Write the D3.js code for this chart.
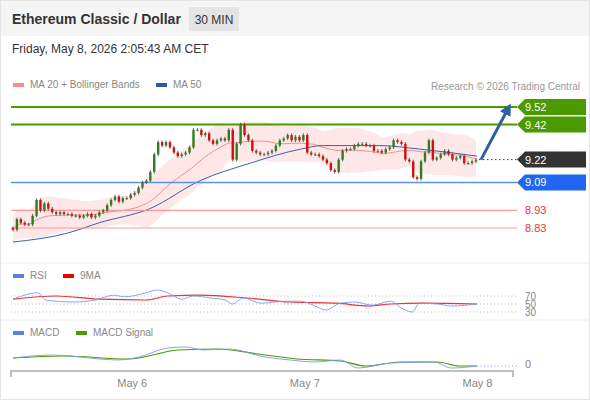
<!DOCTYPE html>
<html><head><meta charset="utf-8">
<script src="https://cdn.jsdelivr.net/npm/d3@7"></script>
<style>body{margin:0;background:#fff;font-family:"Liberation Sans",Arial,sans-serif}</style>
</head><body>
<svg id="chart" width="590" height="400"></svg>
<script>
// closing prices, one per 30 min candle
var closes = [8.82,8.88,8.86,8.85,8.85,8.90,8.99,8.93,8.97,8.94,8.92,8.91,8.92,8.91,8.91,8.90,8.90,8.89,8.90,8.91,
  8.89,8.90,8.92,8.93,8.96,8.99,9.01,8.98,9.00,9.00,9.02,9.03,9.06,9.09,9.10,9.15,9.25,9.32,9.30,9.32,
  9.29,9.26,9.24,9.25,9.26,9.29,9.39,9.39,9.36,9.37,9.33,9.31,9.33,9.34,9.33,9.39,9.22,9.31,9.42,9.36,
  9.33,9.27,9.26,9.25,9.25,9.26,9.27,9.30,9.33,9.34,9.36,9.33,9.35,9.33,9.36,9.26,9.25,9.25,9.24,9.22,
  9.20,9.16,9.15,9.22,9.27,9.28,9.28,9.30,9.31,9.31,9.30,9.30,9.27,9.27,9.26,9.28,9.29,9.33,9.32,9.31,
  9.22,9.21,9.12,9.11,9.21,9.26,9.33,9.22,9.23,9.25,9.27,9.25,9.22,9.23,9.24,9.20,9.20,9.21,9.22];
var firstOpen = 8.83;
// MA 50 read at time index (30 min steps)
var ma50Idx = [0,15,24,38,52,66,80,86,102,113,129];
var ma50Val = [8.75,8.80,8.86,8.94,9.10,9.20,9.28,9.30,9.30,9.28,9.24];
// key levels
var resistances = [9.52, 9.42];
var supports = [9.09];
var minorLevels = [8.93, 8.83];
var lastPrice = 9.22;
// RSI
var rsiIdx = [0,7,9,17,23,28,31,37,40,43,47,50,55,59,61,64,69,76,80,84,87,91,95,100,105,108,111,113,118,122,129];
var rsiVal = [62,78,60,55,60,72,68,78,85,78,62,70,65,60,50,65,52,57,57,45,35,52,55,47,57,40,30,52,50,45,50];
var rsiMaIdx = [0,12,24,37,43,52,65,77,90,99,105,114,129];
var rsiMaVal = [62,70,62,60,70,72,65,55,52,45,50,52,50];
// MACD
var macdIdx = [0,11,29,35,43,48,53,60,70,77,84,91,96,105,117,122,129];
var macdVal = [6,9,4,7,16,17,14,15,7,4,2,4,-4,1,2,-4,-2];
var sigIdx = [0,14,32,46,57,68,79,91,98,108,118,124,129];
var sigVal = [6,8,5,14,15,10,5,3,-2,2,2,-2,-2];
var dayIdx = [33, 81, 129];
var dayLabels = ["May 6", "May 7", "May 8"];

var svg = d3.select("#chart");
var W = 590;

// frame + header
svg.append("rect").attr("x",0.5).attr("y",0.5).attr("width",W-1).attr("height",399).attr("fill","#fff").attr("stroke","#e4e4e4");
svg.append("rect").attr("x",1).attr("y",1).attr("width",W-2).attr("height",35).attr("fill","#f5f5f5");
svg.append("text").attr("x",12).attr("y",24).attr("font-size",14).attr("font-weight","bold").attr("fill","#333").text("Ethereum Classic / Dollar");
svg.append("rect").attr("x",189).attr("y",7).attr("width",50).attr("height",24).attr("fill","#e4e4e4");
svg.append("text").attr("x",214).attr("y",24).attr("text-anchor","middle").attr("font-size",12).attr("fill","#333").text("30 MIN");
svg.append("text").attr("x",12).attr("y",53).attr("font-size",12).attr("fill","#333").text("Friday, May 8, 2026 2:05:43 AM CET");

// legends
function legend(x, y, color, label) {
  svg.append("rect").attr("x",x).attr("y",y-4).attr("width",11).attr("height",4).attr("fill",color);
  svg.append("text").attr("x",x+17).attr("y",y+1).attr("font-size",10).attr("fill","#888").text(label);
}
legend(13, 87, "#f88", "MA 20 + Bollinger Bands");
legend(156, 87, "#2f5b9e", "MA 50");
svg.append("text").attr("x",580).attr("y",90).attr("text-anchor","end").attr("font-size",10).attr("fill","#999").text("Research \u00a9 2026 Trading Central");
legend(13, 278, "#5b7fe0", "RSI");
legend(63, 278, "#e00", "9MA");
legend(13, 335, "#5b7fe0", "MACD");
legend(76, 335, "#4a9a00", "MACD Signal");

// separators
[263, 320].forEach(function(y){
  svg.append("line").attr("x1",1).attr("x2",W-1).attr("y1",y).attr("y2",y).attr("stroke","#eee");
});

var x = d3.scaleLinear().domain([0, 129]).range([13, 477]);
var cx = d3.scaleLinear().domain([0, closes.length-1]).range([13, 476]);
var y = d3.scaleLinear().domain([8.83, 9.52]).range([228, 107]);

// bollinger from closes
var ma20 = [], up = [], lo = [];
closes.forEach(function(c, i){
  var w = closes.slice(Math.max(0, i-19), i+1);
  var m = d3.mean(w), s = d3.deviation(w) || 0.04;
  s = Math.min(Math.max(s, 0.04), 0.07);
  ma20.push(m); up.push(m + 2*s); lo.push(m - 2*s);
});
svg.append("path").datum(closes)
  .attr("d", d3.area().curve(d3.curveBasis).x(function(d,i){return cx(i);}).y0(function(d,i){return y(lo[i]);}).y1(function(d,i){return y(up[i]);}))
  .attr("fill","#fde3e3").attr("opacity",0.85);
svg.append("path").datum(ma20)
  .attr("d", d3.line().curve(d3.curveBasis).x(function(d,i){return cx(i);}).y(function(d){return y(d);}))
  .attr("fill","none").attr("stroke","#f88").attr("stroke-width",1);
svg.append("path").datum(ma50Idx)
  .attr("d", d3.line().curve(d3.curveMonotoneX).x(function(d){return x(d);}).y(function(d,i){return y(ma50Val[i]);}))
  .attr("fill","none").attr("stroke","#3a62a8").attr("stroke-width",1);

// levels
function level(v, color, w) {
  svg.append("line").attr("x1",11).attr("x2",517).attr("y1",y(v)).attr("y2",y(v)).attr("stroke",color).attr("stroke-width",w);
}
resistances.forEach(function(v){ level(v, "#4a9a00", 2); });
supports.forEach(function(v){ level(v, "#5b8ff0", 1.5); });
minorLevels.forEach(function(v){
  level(v, "#f99", 1.2);
  svg.append("text").attr("x",525).attr("y",y(v)+4).attr("font-size",11).attr("fill","#e33").text(v.toFixed(2));
});

// candles
var cw = 2.4;
closes.forEach(function(c, i){
  var o = i === 0 ? firstOpen : closes[i-1];
  var col = c >= o ? "#2e7d1e" : "#d01010";
  var top = Math.max(o, c), bot = Math.min(o, c);
  svg.append("line").attr("x1",cx(i)).attr("x2",cx(i)).attr("y1",y(top+0.01)).attr("y2",y(bot-0.01)).attr("stroke","#444").attr("stroke-width",0.8);
  svg.append("rect").attr("x",cx(i)-cw/2).attr("y",y(top)).attr("width",cw).attr("height",Math.max(1, y(bot)-y(top))).attr("fill",col);
});

// last price dotted
var lastX = cx(closes.length-1);
svg.append("line").attr("x1",lastX+3).attr("x2",517).attr("y1",y(lastPrice)).attr("y2",y(lastPrice))
  .attr("stroke","#333").attr("stroke-dasharray","1.5,2.5");

// arrow
svg.append("defs").append("marker").attr("id","ah").attr("viewBox","0 0 10 10").attr("refX",5).attr("refY",5)
  .attr("markerWidth",4).attr("markerHeight",4).attr("orient","auto")
  .append("path").attr("d","M0,0L10,5L0,10z").attr("fill","#2f5fa0");
svg.append("line").attr("x1",lastX+5).attr("y1",y(lastPrice)).attr("x2",508).attr("y2",y(9.51))
  .attr("stroke","#2f5fa0").attr("stroke-width",3).attr("marker-end","url(#ah)");

// price tags
function tag(v, color) {
  var yy = y(v);
  svg.append("path").attr("d","M517,"+yy+"L525,"+(yy-8)+"L586,"+(yy-8)+"L586,"+(yy+8)+"L525,"+(yy+8)+"Z").attr("fill",color);
  svg.append("text").attr("x",525).attr("y",yy+4).attr("font-size",11).attr("fill","#fff").text(v.toFixed(2));
}
tag(9.52, "#4a9a00"); tag(9.42, "#4a9a00"); tag(lastPrice, "#333"); tag(9.09, "#1f66f0");

// RSI panel
var yr = d3.scaleLinear().domain([30, 70]).range([312, 296]);
[70, 50, 30].forEach(function(v){
  svg.append("line").attr("x1",11).attr("x2",517).attr("y1",yr(v)).attr("y2",yr(v)).attr("stroke","#bbb").attr("stroke-dasharray","1,2.5");
  svg.append("text").attr("x",525).attr("y",yr(v)+4).attr("font-size",10).attr("fill","#888").text(v);
});
svg.append("path").datum(rsiMaIdx).attr("d", d3.line().curve(d3.curveMonotoneX).x(function(d){return x(d);}).y(function(d,i){return yr(rsiMaVal[i]);}))
  .attr("fill","none").attr("stroke","#e33").attr("stroke-width",1.2);
svg.append("path").datum(rsiIdx).attr("d", d3.line().curve(d3.curveMonotoneX).x(function(d){return x(d);}).y(function(d,i){return yr(rsiVal[i]);}))
  .attr("fill","none").attr("stroke","#7b9cf0").attr("stroke-width",0.9);

// MACD panel
var ym = d3.scaleLinear().domain([0, 17]).range([364, 347]);
svg.append("line").attr("x1",x(129)).attr("x2",517).attr("y1",ym(-2)).attr("y2",ym(-2)).attr("stroke","#7b9cf0").attr("stroke-dasharray","1,2.5");
svg.append("text").attr("x",525).attr("y",368).attr("font-size",11).attr("fill","#888").text("0");
svg.append("path").datum(sigIdx).attr("d", d3.line().curve(d3.curveMonotoneX).x(function(d){return x(d);}).y(function(d,i){return ym(sigVal[i]);}))
  .attr("fill","none").attr("stroke","#4a9a00").attr("stroke-width",1.2);
svg.append("path").datum(macdIdx).attr("d", d3.line().curve(d3.curveMonotoneX).x(function(d){return x(d);}).y(function(d,i){return ym(macdVal[i]);}))
  .attr("fill","none").attr("stroke","#7b9cf0").attr("stroke-width",0.9);

// time axis
var ax = svg.append("g").attr("transform","translate(0,371)")
  .call(d3.axisBottom(x).tickValues(dayIdx).tickFormat(function(d,i){return dayLabels[i];}).tickSize(0).tickPadding(8));
ax.select(".domain").remove();
ax.selectAll("text").attr("font-size",11).attr("fill","#888").attr("font-family","Liberation Sans, Arial, sans-serif");
svg.append("path").attr("d","M11,377V371H513V377").attr("fill","none").attr("stroke","#aaa").attr("stroke-width",1.5);
</script>
</body></html>
